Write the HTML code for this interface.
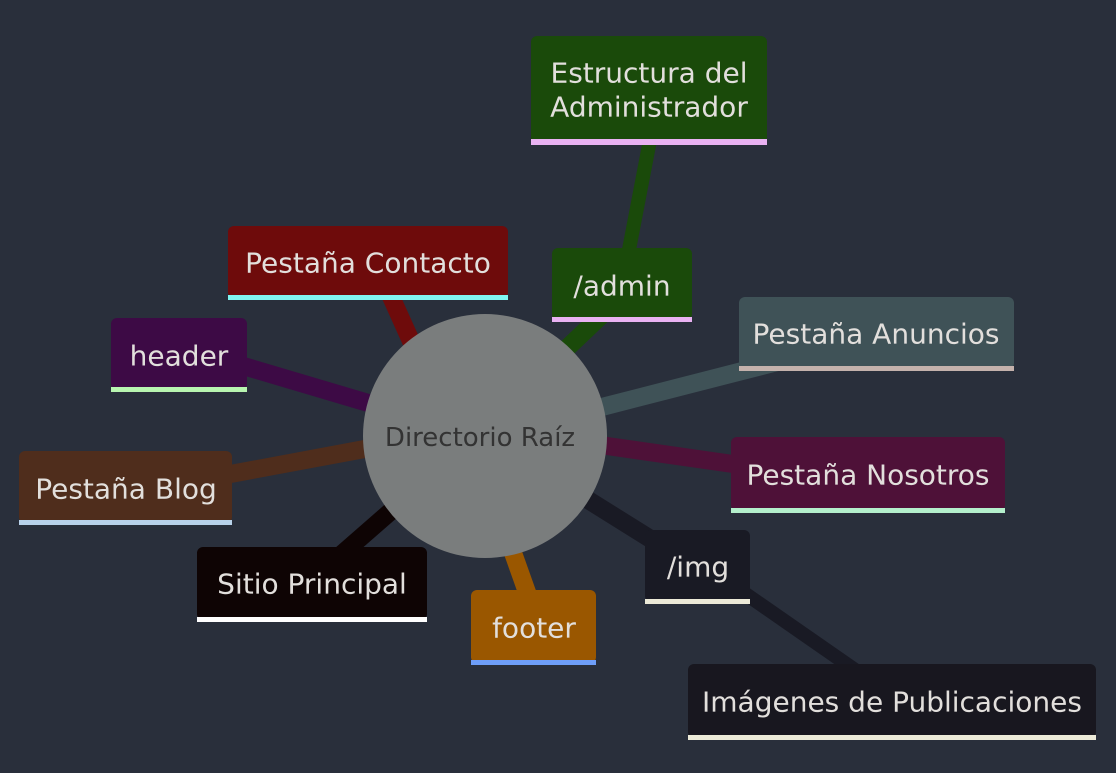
<!DOCTYPE html>
<html><head><meta charset="utf-8"><style>
html,body{margin:0;padding:0;background:#292f3b;}
svg{display:block}
text{font-family:"DejaVu Sans","Liberation Sans",sans-serif;font-size:28px;fill:#e2dfdc;text-anchor:middle;dominant-baseline:central}
</style></head><body>
<svg width="1116" height="773" viewBox="0 0 1116 773">
<rect width="1116" height="773" fill="#292f3b"/>
<g stroke-linecap="butt" fill="none">
<line x1="415" y1="350" x2="388" y2="290" stroke="#6e0b0b" stroke-width="18"/>
<line x1="565" y1="350" x2="605" y2="312" stroke="#1a4a0a" stroke-width="18"/>
<line x1="628" y1="255" x2="650" y2="140" stroke="#1a4a0a" stroke-width="14"/>
<line x1="240" y1="365" x2="375" y2="405" stroke="#3d0a45" stroke-width="18"/>
<line x1="225" y1="475" x2="370" y2="448" stroke="#4f2d1c" stroke-width="18"/>
<line x1="335" y1="560" x2="398" y2="505" stroke="#0e0404" stroke-width="18"/>
<line x1="512" y1="550" x2="528" y2="595" stroke="#9a5700" stroke-width="18"/>
<line x1="585" y1="498" x2="665" y2="548" stroke="#191a24" stroke-width="18"/>
<line x1="740" y1="590" x2="858" y2="672" stroke="#191a24" stroke-width="14"/>
<line x1="600" y1="445" x2="740" y2="465" stroke="#4e1138" stroke-width="18"/>
<line x1="598" y1="408" x2="785" y2="360" stroke="#3f5257" stroke-width="18"/>
</g>
<g>
<rect x="531" y="36" width="236" height="108" rx="6" fill="#1a4a0a"/><rect x="531" y="139" width="236" height="6" fill="#e9b2f2"/>
<text x="649" y="73">Estructura del</text><text x="649" y="107">Administrador</text>

<rect x="552" y="248" width="140" height="72" rx="6" fill="#1a4a0a"/><rect x="552" y="317" width="140" height="5" fill="#e9b2f2"/>
<text x="622" y="286">/admin</text>

<rect x="228" y="226" width="280" height="72" rx="6" fill="#6e0b0b"/><rect x="228" y="295" width="280" height="5" fill="#80f4f0"/>
<text x="368" y="263">Pestaña Contacto</text>

<rect x="111" y="318" width="136" height="72" rx="6" fill="#3d0a45"/><rect x="111" y="387" width="136" height="5" fill="#b8f5b0"/>
<text x="179" y="356">header</text>

<rect x="19" y="451" width="213" height="72" rx="6" fill="#4f2d1c"/><rect x="19" y="520" width="213" height="5" fill="#b8d2ea"/>
<text x="126" y="489">Pestaña Blog</text>

<rect x="197" y="547" width="230" height="73" rx="6" fill="#0e0404"/><rect x="197" y="617" width="230" height="5" fill="#ffffff"/>
<text x="312" y="584">Sitio Principal</text>

<rect x="471" y="590" width="125" height="73" rx="6" fill="#9a5700"/><rect x="471" y="660" width="125" height="5" fill="#6e9ef8"/>
<text x="534" y="628">footer</text>

<rect x="645" y="530" width="105" height="72" rx="6" fill="#191a24"/><rect x="645" y="599" width="105" height="5" fill="#ecead8"/>
<text x="698" y="567">/img</text>

<rect x="688" y="664" width="408" height="74" rx="6" fill="#18171f"/><rect x="688" y="735" width="408" height="5" fill="#ecead8"/>
<text x="892" y="702">Imágenes de Publicaciones</text>

<rect x="731" y="437" width="274" height="74" rx="6" fill="#4e1138"/><rect x="731" y="508" width="274" height="5" fill="#b4f0cc"/>
<text x="868" y="475">Pestaña Nosotros</text>

<rect x="739" y="297" width="275" height="72" rx="6" fill="#3f5257"/><rect x="739" y="366" width="275" height="5" fill="#c4b2ac"/>
<text x="876" y="334">Pestaña Anuncios</text>

<circle cx="485" cy="436" r="122" fill="#7a7d7d"/>
<text x="480" y="438" style="fill:#333;font-size:26px">Directorio Raíz</text>
</g>
</svg>
</body></html>
